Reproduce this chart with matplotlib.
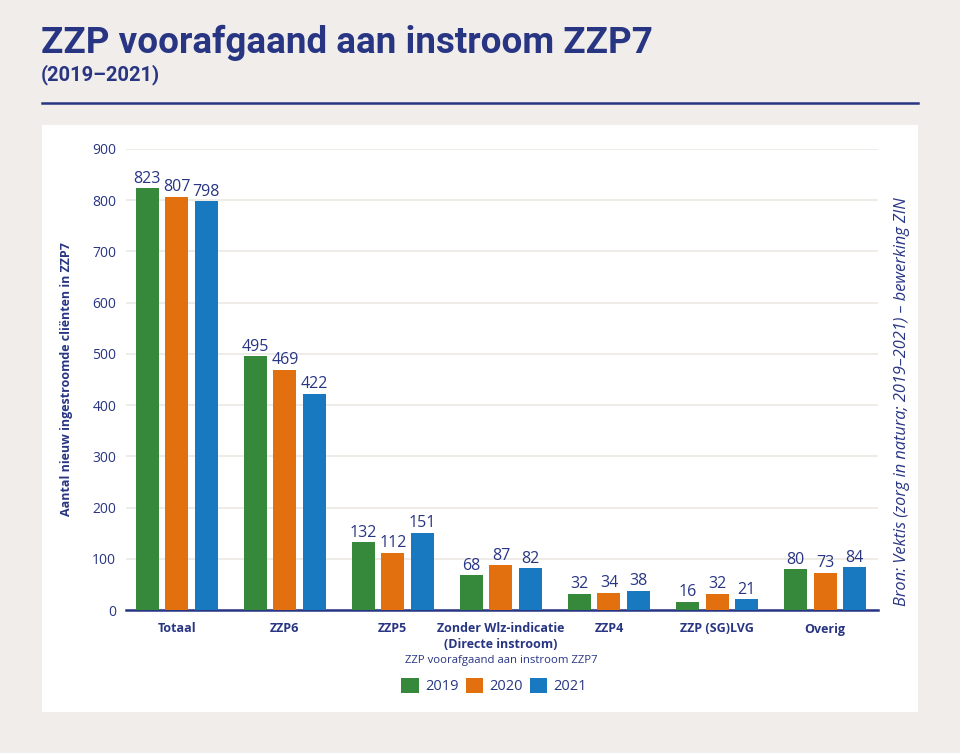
import matplotlib.pyplot as plt
import numpy as np
from matplotlib.patches import Rectangle
from matplotlib.lines import Line2D

plt.rcParams['font.family'] = ['Open Sans', 'DejaVu Sans']

# Data
categories = ['Totaal', 'ZZP6', 'ZZP5', 'Zonder Wlz-indicatie\n(Directe instroom)',
              'ZZP4', 'ZZP (SG)LVG', 'Overig']
years = ['2019', '2020', '2021']
vals_2019 = [823, 495, 132, 68, 32, 16, 80]
vals_2020 = [807, 469, 112, 87, 34, 32, 73]
vals_2021 = [798, 422, 151, 82, 38, 21, 84]
yticks = [0, 100, 200, 300, 400, 500, 600, 700, 800, 900]

navy = '#283583'
bg = '#f1edea'
colors = ['#36883a', '#e2700f', '#1878c0']

fig = plt.figure(figsize=(9.6, 7.53), dpi=100)
fig.patch.set_facecolor(bg)

# white panel behind chart
fig.patches.append(Rectangle((42/960, 1-712/753), (918-42)/960, (712-125)/753,
                             transform=fig.transFigure, facecolor='white',
                             edgecolor='none', zorder=-5))

# title + subtitle + rule
fig.text(41/960, 1-43/753, 'ZZP voorafgaand aan instroom ZZP7', fontsize=26.5,
         fontweight='bold', color=navy, va='center', ha='left',
         family=['Roboto', 'DejaVu Sans'])
fig.text(41/960, 1-75/753, '(2019\u20132021)', fontsize=14.5, fontweight='bold',
         color=navy, va='center', ha='left', family=['Roboto', 'DejaVu Sans'])
fig.lines.append(Line2D([42/960, 918/960], [1-103/753, 1-103/753],
                        transform=fig.transFigure, color=navy, lw=1.8))

ax = fig.add_axes([126/960, 1-610/753, (878-126)/960, (610-149)/753])
ax.set_facecolor('none')

x = np.arange(len(categories))
w = 0.213
off = 0.273
series = [vals_2019, vals_2020, vals_2021]
for i, (vals, c, yr) in enumerate(zip(series, colors, years)):
    bars = ax.bar(x + (i - 1) * off, vals, width=w, color=c, label=yr, zorder=3)
    ax.bar_label(bars, padding=1, fontsize=11.5, color=navy)

ax.set_ylim(0, 900)
ax.set_xlim(-0.47, 6.49)
ax.set_yticks(yticks)
ax.yaxis.grid(True, color='#ece8e2', lw=1.2, zorder=0)
ax.set_axisbelow(True)
for s in ['top', 'right', 'left']:
    ax.spines[s].set_visible(False)
ax.spines['bottom'].set_color(navy)
ax.spines['bottom'].set_linewidth(1.8)
ax.tick_params(axis='both', length=0, colors=navy)
ax.tick_params(axis='y', labelsize=10, pad=7)
ax.set_xticks(x)
ax.set_xticklabels(categories, fontsize=9, fontweight='bold', color=navy,
                   linespacing=1.2)
ax.tick_params(axis='x', pad=9)

ax.set_ylabel('Aantal nieuw ingestroomde cliënten in ZZP7', fontsize=9,
              fontweight='bold', color=navy, labelpad=14)
fig.text(501/960, 1-661/753, 'ZZP voorafgaand aan instroom ZZP7', fontsize=8.2,
         color=navy, ha='center', va='center')

leg = fig.legend(loc='center', bbox_to_anchor=(494/960, 1-686/753), ncol=3,
                 frameon=False, fontsize=10.5, handlelength=1.2, handleheight=1.2,
                 columnspacing=0.5, handletextpad=0.4)
for t in leg.get_texts():
    t.set_color(navy)

fig.text(902/960, 1-402/753,
         'Bron: Vektis (zorg in natura; 2019\u20132021) \u2013 bewerking ZIN',
         rotation=90, fontsize=11.8, style='italic', color=navy,
         ha='center', va='center')

fig.savefig('out.png', dpi=100, facecolor=bg)
